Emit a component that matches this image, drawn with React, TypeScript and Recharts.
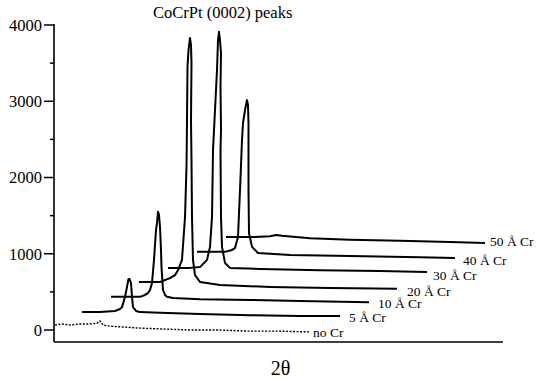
import React from 'react';
import { LineChart, Line, XAxis, YAxis, LabelList } from 'recharts';

// [position along 2θ (arbitrary units), intensity (counts)]
const noCr: [number, number][] = [[1,65],[8,80],[16,65],[26,80],[36,80],[43,90],[46,120],[49,65],[56,50],[69,40],[86,25],[106,15],[136,0],[166,0],[196,-15],[226,-15],[256,-25]];
const cr5: [number, number][] = [[28,235],[46,235],[61,250],[66,275],[68,300],[71,435],[73,565],[74.5,670],[75.5,670],[77,615],[78,435],[79,300],[82,250],[86,235],[106,225],[146,210],[196,195],[246,185],[286,185]];
const cr10: [number, number][] = [[57,435],[76,435],[86,435],[91,460],[94,485],[96,525],[98,615],[100,920],[102,1310],[103,1405],[104,1550],[105,1510],[106,1350],[107,1050],[107.5,825],[109,525],[111,460],[113,435],[119,420],[146,405],[196,395],[246,380],[315,365]];
const cr20: [number, number][] = [[85,630],[106,630],[116,680],[121,720],[124,785],[128,920],[131,1480],[132.5,2140],[133,2750],[133.5,3450],[134.5,3670],[136,3830],[137,3740],[137.5,3500],[137,2750],[137.5,2230],[138,1480],[139,920],[141,720],[146,630],[166,590],[216,565],[276,550],[343,540]];
const cr30: [number, number][] = [[114,815],[136,815],[146,825],[153,920],[156,1090],[158,1480],[159,2360],[160,2620],[163,3410],[164,3800],[165,3910],[166,3800],[167,3630],[166.5,3190],[167,2620],[166.5,2360],[167,1480],[168,1090],[171,880],[176,815],[206,800],[266,785],[326,775],[373,760]];
const cr40: [number, number][] = [[143,1025],[171,1025],[178,1050],[181,1075],[184,1220],[186,1835],[188,2490],[189,2715],[191,2885],[193,3015],[194,2950],[194.5,2715],[194.5,1835],[195,1270],[198,1090],[204,1010],[236,985],[296,970],[366,955],[401,945]];
const cr50: [number, number][] = [[172,1220],[186,1220],[201,1220],[216,1230],[222,1245],[228,1235],[256,1205],[296,1185],[346,1170],[396,1155],[431,1140]];

const seriesLabels = ['no Cr', '5 Å Cr', '10 Å Cr', '20 Å Cr', '30 Å Cr', '40 Å Cr', '50 Å Cr'];
const yTicks = [0, 500, 1000, 1500, 2000, 2500, 3000, 3500, 4000];
const titleText = 'CoCrPt (0002) peaks';
const xLabel = '2θ';

const allSeries = [noCr, cr5, cr10, cr20, cr30, cr40, cr50];
const labelOffsets: [number, number][] = [[3, 0], [9, 1], [9, 1], [10, 2], [6, 3], [8, 2], [5, -2]];

const FONT = "'Liberation Serif', 'Times New Roman', Times, 'DejaVu Serif', serif";

const buildData = (pts: [number, number][], label: string) =>
  pts.map(([x, y], i) => ({ x, y, label: i === pts.length - 1 ? label : undefined }));

const YTick = (props: any) => {
  const { x, y, payload } = props;
  const major = payload.value % 1000 === 0;
  return (
    <g>
      <line x1={x - (major ? 10 : 4)} x2={x} y1={y} y2={y} stroke="#000" strokeWidth={1.5} />
      {major && (
        <text x={x - 12} y={y} dy="0.35em" textAnchor="end" fontSize={16.5} style={{ fontFamily: FONT }} fill="#000">
          {payload.value}
        </text>
      )}
    </g>
  );
};

const makeLabel = (dx: number, dy: number) => (props: any) => {
  const { x, y, value } = props;
  if (value === undefined || value === null) return <g />;
  return (
    <text x={x + dx} y={y + dy} dy="0.35em" textAnchor="start" fontSize={13.5} style={{ fontFamily: FONT }} fill="#000">
      {value}
    </text>
  );
};

export default function App() {
  return (
    <div style={{ position: 'absolute', left: 0, top: 0, width: 542, height: 378, background: '#fff', fontFamily: FONT }}>
      <div
        style={{
          position: 'absolute',
          left: 153,
          top: 5,
          fontFamily: FONT,
          fontSize: 16.5,
          lineHeight: '16.5px',
          whiteSpace: 'nowrap',
          color: '#000',
        }}
      >
        {titleText}
      </div>
      <LineChart width={542} height={378} margin={{ top: 24, right: 39, bottom: 0, left: 0 }}>
        <XAxis
          type="number"
          dataKey="x"
          domain={[0, 449]}
          allowDataOverflow
          height={36}
          tick={false}
          tickLine={false}
          axisLine={{ stroke: '#000', strokeWidth: 1.6 }}
          label={{ value: xLabel, position: 'insideBottom', offset: 3, dx: 2, style: { fontFamily: FONT, fontSize: 20, fill: '#000' } }}
        />
        <YAxis
          type="number"
          domain={[-157, 4013]}
          allowDataOverflow
          width={54}
          ticks={yTicks}
          interval={0}
          tickSize={0}
          tickMargin={0}
          tickLine={false}
          tick={<YTick />}
          axisLine={{ stroke: '#000', strokeWidth: 1.6 }}
        />
        {allSeries.map((pts, i) => (
          <Line
            key={seriesLabels[i]}
            data={buildData(pts, seriesLabels[i])}
            dataKey="y"
            type="linear"
            stroke="#000"
            strokeWidth={i === 0 ? 1.4 : 2}
            strokeDasharray={i === 0 ? '2 1.5' : undefined}
            strokeLinejoin="round"
            dot={false}
            activeDot={false}
            isAnimationActive={false}
          >
            <LabelList dataKey="label" content={makeLabel(labelOffsets[i][0], labelOffsets[i][1])} />
          </Line>
        ))}
      </LineChart>
    </div>
  );
}
